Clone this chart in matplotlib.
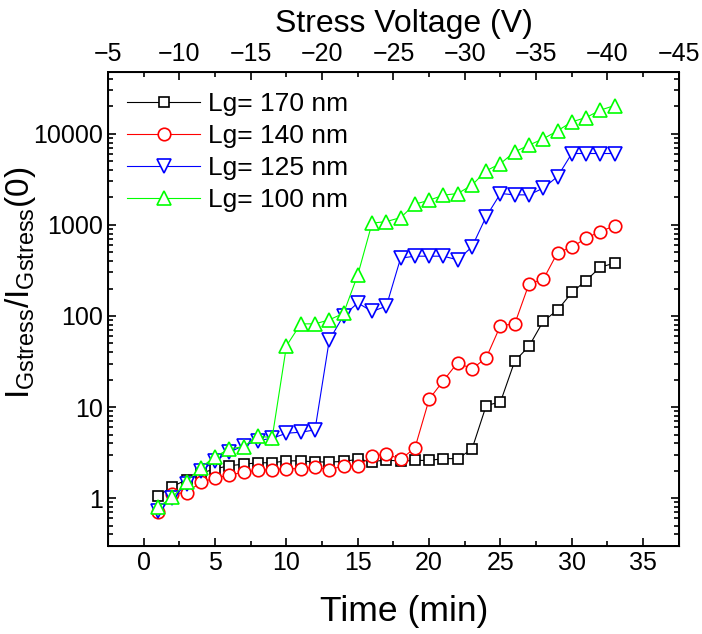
import numpy as np
import matplotlib
matplotlib.use("Agg")
import matplotlib.pyplot as plt
from matplotlib.ticker import MultipleLocator, LogLocator, NullFormatter, FixedLocator

plt.rcParams['font.family'] = ['Liberation Sans', 'DejaVu Sans']

# time points (min)
t = np.arange(1, 34)

# Lg = 170 nm
lg170 = [1.06, 1.34, 1.6, 1.88, 2.1, 2.28, 2.36, 2.45, 2.45, 2.57, 2.57, 2.5, 2.5,
         2.53, 2.68, 2.52, 2.63, 2.55, 2.6, 2.6, 2.72, 2.72, 3.45, 10.4, 11.4,
         32, 46.6, 87.7, 116, 181, 245, 344, 380]
# Lg = 140 nm
lg140 = [0.70, 1.12, 1.15, 1.5, 1.66, 1.8, 1.93, 2.03, 2.06, 2.11, 2.11, 2.19, 2.06,
         2.26, 2.24, 2.9, 3.06, 2.68, 3.54, 12.2, 19.5, 30.8, 26.2, 34.7, 78.5,
         81.9, 225, 252, 496, 569, 714, 845, 975]
# Lg = 125 nm
lg125 = [0.72, 1.0, 1.43, 1.99, 2.59, 3.2, 3.78, 4.29, 4.55, 5.17, 5.3, 5.62, 54.2,
         101, 139, 112, 128, 431, 453, 453, 453, 413, 573, 1234, 2206, 2134,
         2134, 2529, 3388, 6066, 6066, 6066, 6066]
# Lg = 100 nm
lg100 = [0.8, 1.02, 1.52, 2.17, 2.86, 3.47, 3.69, 4.79, 4.63, 47, 81.9, 82, 90.6,
         107, 283, 1043, 1087, 1200, 1686, 1862, 2118, 2206, 2729, 3920, 4710,
         6326, 7500, 8800, 10770, 13500, 15060, 18150, 20400]

series = [
    ("Lg= 170 nm", lg170, 'black', 's', 7.5),
    ("Lg= 140 nm", lg140, '#ff0000', 'o', 9),
    ("Lg= 125 nm", lg125, '#0000ff', 'v', 10),
    ("Lg= 100 nm", lg100, '#00ff00', '^', 10),
]

fig = plt.figure(figsize=(7.02, 6.34), dpi=100)
ax = fig.add_axes([0.154, 0.139, 0.813, 0.748])

for label, y, c, m, ms in series:
    ax.plot(t, y, color=c, lw=0.8, marker=m, ms=ms, mfc='white', mec=c,
            mew=1.2, label=label)

ax.set_yscale('log')
ax.set_xlim(-2.5, 37.5)
ax.set_ylim(0.3, 48000)

ax.xaxis.set_major_locator(MultipleLocator(5))
ax.xaxis.set_minor_locator(MultipleLocator(2.5))
ax.yaxis.set_major_locator(FixedLocator([1, 10, 100, 1000, 10000]))
ax.yaxis.set_minor_locator(LogLocator(base=10, subs=np.arange(2, 10), numticks=20))
ax.yaxis.set_minor_formatter(NullFormatter())
ax.set_yticklabels(['1', '10', '100', '1000', '10000'])

ax.tick_params(which='both', direction='in', labelsize=18, width=1.2, right=True)
ax.tick_params(which='major', length=6)
ax.tick_params(which='minor', length=3.5)
for s in ax.spines.values():
    s.set_linewidth(1.4)

ax.set_xlabel("Time (min)", fontsize=25.5)
ax.xaxis.set_label_coords(0.518, -0.103)
ax.set_ylabel(r"I$_{\mathregular{Gstress}}$/I$_{\mathregular{Gstress}}$(0)",
              fontsize=24)
ax.yaxis.set_label_coords(-0.123, 0.555)

ax2 = ax.twiny()
ax2.set_xlim(-5, -45)
ax2.xaxis.set_major_locator(MultipleLocator(5))
ax2.xaxis.set_minor_locator(MultipleLocator(2.5))
ax2.tick_params(which='both', direction='in', labelsize=18, width=1.2, pad=4)
ax2.tick_params(which='major', length=6)
ax2.tick_params(which='minor', length=3.5)
ax2.set_xlabel("Stress Voltage (V)", fontsize=23, va='baseline')
ax2.xaxis.set_label_coords(0.518, 1.084)

leg = ax.legend(loc='upper left', frameon=False, fontsize=19, handlelength=2.8,
                handletextpad=0.3, labelspacing=0.3, borderaxespad=0.3,
                bbox_to_anchor=(0.0, 0.995))

fig.savefig("out.png", dpi=100)
